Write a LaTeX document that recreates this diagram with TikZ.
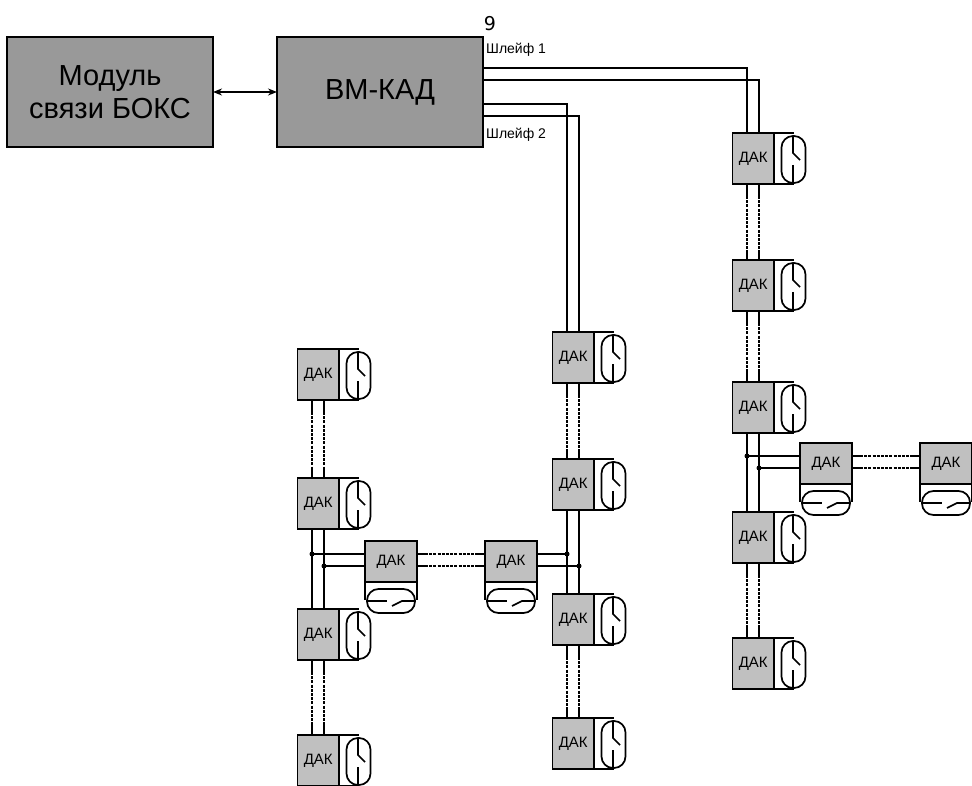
\documentclass[tikz,border=0pt]{standalone}
\usepackage{fontspec}
\setmainfont{Liberation Sans}
\newfontfamily\ninefont{DejaVu Sans}
\usetikzlibrary{calc,arrows.meta}
\definecolor{maingray}{RGB}{153,153,153}
\definecolor{dakgray}{RGB}{192,192,192}
\tikzset{
  mainbox/.style={draw=black,line width=2pt,fill=maingray,minimum width=206pt,minimum height=110pt,inner sep=0pt,outer sep=0pt,anchor=north west,font=\fontsize{29}{33}\selectfont,align=center},
  dakv/.style={draw=black,line width=1.9pt,fill=dakgray,minimum width=41.5pt,minimum height=51pt,inner sep=0pt,outer sep=0pt,anchor=north west,font=\fontsize{15}{17}\selectfont},
  dakh/.style={draw=black,line width=1.9pt,fill=dakgray,minimum width=52pt,minimum height=41pt,inner sep=0pt,outer sep=0pt,anchor=north west,font=\fontsize{15}{17}\selectfont},
  wire/.style={line width=1.7pt},
  dotwire/.style={line width=2.4pt,dash pattern=on 3pt off 1.2pt},
  junction/.style={circle,fill=black,inner sep=0pt,minimum size=5pt},
  label/.style={font=\fontsize{14}{16}\selectfont,anchor=west,inner sep=0pt}
}
% vertical-chain unit: box, open housing on the right, capsule with switch
\newcommand{\dakV}[3]{%
  \node[dakv] (#1) at (#2,#3) {ДАК};
  \coordinate (#1-tl) at ($(#1.north west)+(14.5,0)$);
  \coordinate (#1-tr) at ($(#1.north west)+(26.5,0)$);
  \coordinate (#1-bl) at ($(#1.south west)+(14.5,0)$);
  \coordinate (#1-br) at ($(#1.south west)+(26.5,0)$);
  \draw[wire] (#1.north east) -- ++(19.5,0) (#1.south east) -- ++(19.5,0);
  \draw[wire,fill=white,rounded corners=11.5pt] ($(#1.north east)+(7.5,3)$) rectangle ($(#1.south east)+(31.5,-1)$);
  \draw[wire] ($(#1.north east)+(19,3)$) -- ++(0,17) -- ++(7,7);
  \draw[wire] ($(#1.north east)+(19,32)$) -- ++(0,18);
}
% horizontal-branch unit: box, open housing below, capsule with switch
\newcommand{\dakH}[3]{%
  \node[dakh] (#1) at (#2,#3) {ДАК};
  \coordinate (#1-lt) at ($(#1.north west)+(0,13)$);
  \coordinate (#1-lb) at ($(#1.north west)+(0,25)$);
  \coordinate (#1-rt) at ($(#1.north east)+(0,13)$);
  \coordinate (#1-rb) at ($(#1.north east)+(0,25)$);
  \draw[wire] (#1.south west) -- ++(0,18) (#1.south east) -- ++(0,18);
  \draw[wire,fill=white,rounded corners=11.5pt] ($(#1.south west)+(2,7)$) rectangle ($(#1.south west)+(50,31)$);
  \draw[wire] ($(#1.south west)+(2,19)$) -- ++(20,0);
  \draw[wire] ($(#1.south west)+(27,24)$) -- ++(10,-5) -- ($(#1.south west)+(50,19)$);
}
% solid pair between two vertically stacked units
\newcommand{\solidV}[2]{\draw[wire] (#1-bl) -- (#2-tl) (#1-br) -- (#2-tr);}
% pair with interrupted (dotted) middle
\newcommand{\dottedV}[2]{%
  \draw[wire] (#1-bl) -- ($(#1-bl)+(0,12)$) (#1-br) -- ($(#1-br)+(0,12)$)
              (#2-tl) -- ($(#2-tl)+(0,-10)$) (#2-tr) -- ($(#2-tr)+(0,-10)$);
  \draw[dotwire] ($(#1-bl)+(0,12)$) -- ($(#2-tl)+(0,-10)$);
  \draw[dotwire] ($(#1-br)+(0,12)$) -- ($(#2-tr)+(0,-10)$);
}
\newcommand{\dottedH}[2]{%
  \draw[wire] (#1-rt) -- ($(#1-rt)+(8,0)$) (#1-rb) -- ($(#1-rb)+(8,0)$)
              (#2-lt) -- ($(#2-lt)+(-8,0)$) (#2-lb) -- ($(#2-lb)+(-8,0)$);
  \draw[dotwire] ($(#1-rt)+(8,0)$) -- ($(#2-lt)+(-8,0)$);
  \draw[dotwire] ($(#1-rb)+(8,0)$) -- ($(#2-lb)+(-8,0)$);
}
\begin{document}
\begin{tikzpicture}[x=1pt,y=-1pt]
\useasboundingbox[clip] (0,0) rectangle (972,786);

\node[mainbox] (box) at (7,37) {Модуль\\связи БОКС};
\node[mainbox] (vm) at (277,37) {ВМ-КАД};
\draw[line width=1.7pt,{Stealth[length=9pt,width=7pt]}-{Stealth[length=9pt,width=7pt]}] (box.east) -- (vm.east -| vm.west);

\node[anchor=south,inner sep=0pt,font=\ninefont\fontsize{19}{21}\selectfont] (nine) at (490,31) {9};
\node[label] (s1) at (486,50) {Шлейф 1};
\node[label] (s2) at (486,135) {Шлейф 2};

% chain 1
\dakV{a1}{732.5}{133}
\dakV{a2}{732.5}{260}
\dakV{a3}{732.5}{382}
\dakV{a4}{732.5}{512}
\dakV{a5}{732.5}{638}
% chain 2
\dakV{b1}{552.5}{332}
\dakV{b2}{552.5}{459}
\dakV{b3}{552.5}{594}
\dakV{b4}{552.5}{718}
% chain 3
\dakV{c1}{297.5}{349}
\dakV{c2}{297.5}{478}
\dakV{c3}{297.5}{609}
\dakV{c4}{297.5}{735}
% branches
\dakH{d1}{800}{443}
\dakH{d2}{920}{443}
\dakH{e1}{365}{541}
\dakH{e2}{485}{541}

% loops from VM-KAD
\draw[wire] ($(vm.north east)+(0,31)$) -| (a1-tl);
\draw[wire] ($(vm.north east)+(0,43)$) -| (a1-tr);
\draw[wire] ($(vm.north east)+(0,67)$) -| (b1-tl);
\draw[wire] ($(vm.north east)+(0,79)$) -| (b1-tr);

\dottedV{a1}{a2}
\dottedV{a2}{a3}
\solidV{a3}{a4}
\dottedV{a4}{a5}
\dottedV{b1}{b2}
\solidV{b2}{b3}
\dottedV{b3}{b4}
\dottedV{c1}{c2}
\solidV{c2}{c3}
\dottedV{c3}{c4}
\dottedH{d1}{d2}
\dottedH{e1}{e2}

% branch taps
\draw[wire] (d1-lt) -- (d1-lt -| a3-bl) node[junction] (j1) {};
\draw[wire] (d1-lb) -- (d1-lb -| a3-br) node[junction] (j2) {};
\draw[wire] (e1-lt) -- (e1-lt -| c2-bl) node[junction] (j3) {};
\draw[wire] (e1-lb) -- (e1-lb -| c2-br) node[junction] (j4) {};
\draw[wire] (e2-rt) -- (e2-rt -| b2-bl) node[junction] (j5) {};
\draw[wire] (e2-rb) -- (e2-rb -| b2-br) node[junction] (j6) {};
\end{tikzpicture}
\end{document}
